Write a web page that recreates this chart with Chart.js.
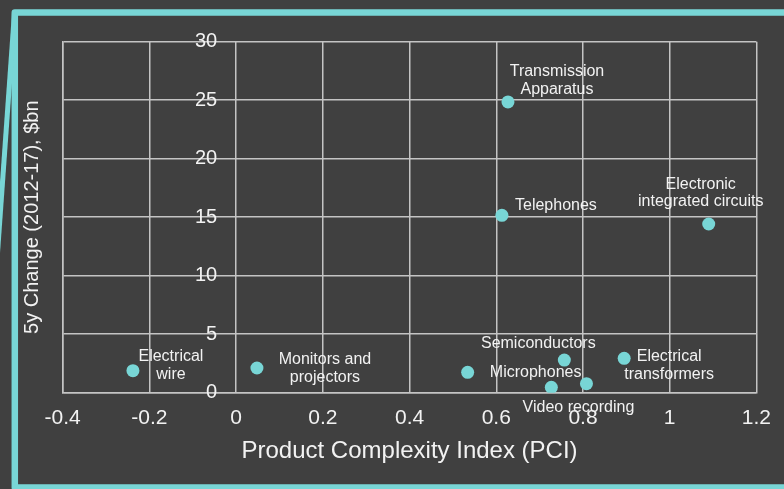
<!DOCTYPE html>
<html><head><meta charset="utf-8">
<script src="https://cdn.jsdelivr.net/npm/chart.js@4"></script>
<style>html,body{margin:0;padding:0;background:#404040;overflow:hidden}</style>
</head><body>
<canvas id="c" width="784" height="489"></canvas>
<script>
// ---- data ----
const productLabels = [
  ['Electrical', 'wire'],
  ['Monitors and', 'projectors'],
  ['Microphones'],
  [],
  ['Semiconductors'],
  ['Video recording'],
  ['Electrical', 'transformers'],
  ['Telephones'],
  ['Transmission', 'Apparatus'],
  ['Electronic', 'integrated circuits']
];
const pciValues    = [-0.238, 0.048, 0.534, 0.727, 0.757, 0.808, 0.895, 0.613, 0.627, 1.090];
const changeValues = [1.88, 2.11, 1.74, 0.46, 2.79, 0.77, 2.94, 15.16, 24.85, 14.42];
const xTickStep = 0.2;
const yTickStep = 5;
const xTitle = 'Product Complexity Index (PCI)';
const yTitle = '5y Change (2012-17), $bn';

// ---- label placement (pixel offsets from the point: centre dx, first-line dy) ----
const labelPlacement = [
  [38, -14], [68, -8.7], [68, 0], [0, 0], [-26, -16.3],
  [-8, 24], [45, -1.6], [54, -9.6], [49, -30.3], [-8, -39.7]
];

const TEAL = '#78D6D6';
const TEXT = '#F2F2F2';
const GRID = '#C4C4C4';
const FONT = "'Liberation Sans', Arial, sans-serif";

const points = pciValues.map((x, i) => ({x: x, y: changeValues[i]}));

const framePlugin = {
  id: 'frame',
  beforeDraw(chart) {
    const ctx = chart.ctx;
    ctx.save();
    ctx.fillStyle = '#404040';
    ctx.fillRect(0, 0, chart.width, chart.height);
    ctx.strokeStyle = TEAL;
    ctx.lineJoin = 'round';
    ctx.lineWidth = 6.5;
    ctx.beginPath();
    ctx.moveTo(800, 12.5);
    ctx.lineTo(14.8, 12.5);
    ctx.lineTo(14.8, 487.5);
    ctx.lineTo(800, 487.5);
    ctx.stroke();
    ctx.lineWidth = 5;
    ctx.beginPath();
    ctx.moveTo(14.5, 12.5);
    ctx.lineTo(-3, 260);
    ctx.stroke();
    ctx.restore();
  }
};

const labelPlugin = {
  id: 'pointLabels',
  afterDatasetsDraw(chart) {
    const ctx = chart.ctx;
    const meta = chart.getDatasetMeta(0);
    ctx.save();
    ctx.fillStyle = TEXT;
    ctx.font = '16px ' + FONT;
    ctx.textAlign = 'center';
    ctx.textBaseline = 'middle';
    meta.data.forEach((el, i) => {
      const lines = productLabels[i];
      const [dx, dy] = labelPlacement[i];
      lines.forEach((t, k) => ctx.fillText(t, el.x + dx, el.y + dy + k * 17.8));
    });
    ctx.restore();
  }
};

const yTickPlugin = {
  id: 'yTicksAtZero',
  afterDraw(chart) {
    const xs = chart.scales.x, ys = chart.scales.y;
    const ctx = chart.ctx;
    const x0 = xs.getPixelForValue(0) - 19;
    ctx.save();
    ctx.fillStyle = TEXT;
    ctx.font = '20px ' + FONT;
    ctx.textAlign = 'right';
    ctx.textBaseline = 'middle';
    ys.ticks.forEach(t => ctx.fillText(String(t.value), x0, ys.getPixelForValue(t.value)));
    ctx.restore();
  }
};

new Chart(document.getElementById('c'), {
  type: 'scatter',
  data: {
    datasets: [{
      data: points,
      backgroundColor: TEAL,
      borderWidth: 0,
      pointRadius: 6.5,
      pointHoverRadius: 6.5
    }]
  },
  options: {
    responsive: false,
    animation: false,
    devicePixelRatio: 1,
    layout: {padding: {top: 41.7, right: 26.7, left: 0, bottom: 0}},
    plugins: {legend: {display: false}, tooltip: {enabled: false}},
    scales: {
      x: {
        type: 'linear', min: -0.4, max: 1.2,
        ticks: {
          stepSize: xTickStep, color: TEXT, padding: 13,
          font: {family: FONT, size: 21},
          callback: v => String(Math.round(v * 10) / 10)
        },
        grid: {color: GRID, lineWidth: 1.5, drawTicks: false},
        border: {display: true, color: GRID, width: 1.5},
        title: {display: true, text: xTitle, color: TEXT, font: {family: FONT, size: 24}, padding: {top: 0, bottom: 23}},
        afterFit: s => { s.height = 96.3; }
      },
      y: {
        type: 'linear', min: 0, max: 30,
        ticks: {stepSize: yTickStep, display: false},
        grid: {color: GRID, lineWidth: 1.5, drawTicks: false},
        border: {display: true, color: GRID, width: 1.5},
        title: {display: true, text: yTitle, color: TEXT, font: {family: FONT, size: 20}, padding: {top: 20.8, bottom: 0}},
        afterFit: s => { s.width = 62.7; }
      }
    }
  },
  plugins: [framePlugin, labelPlugin, yTickPlugin]
});
</script>
</body></html>
